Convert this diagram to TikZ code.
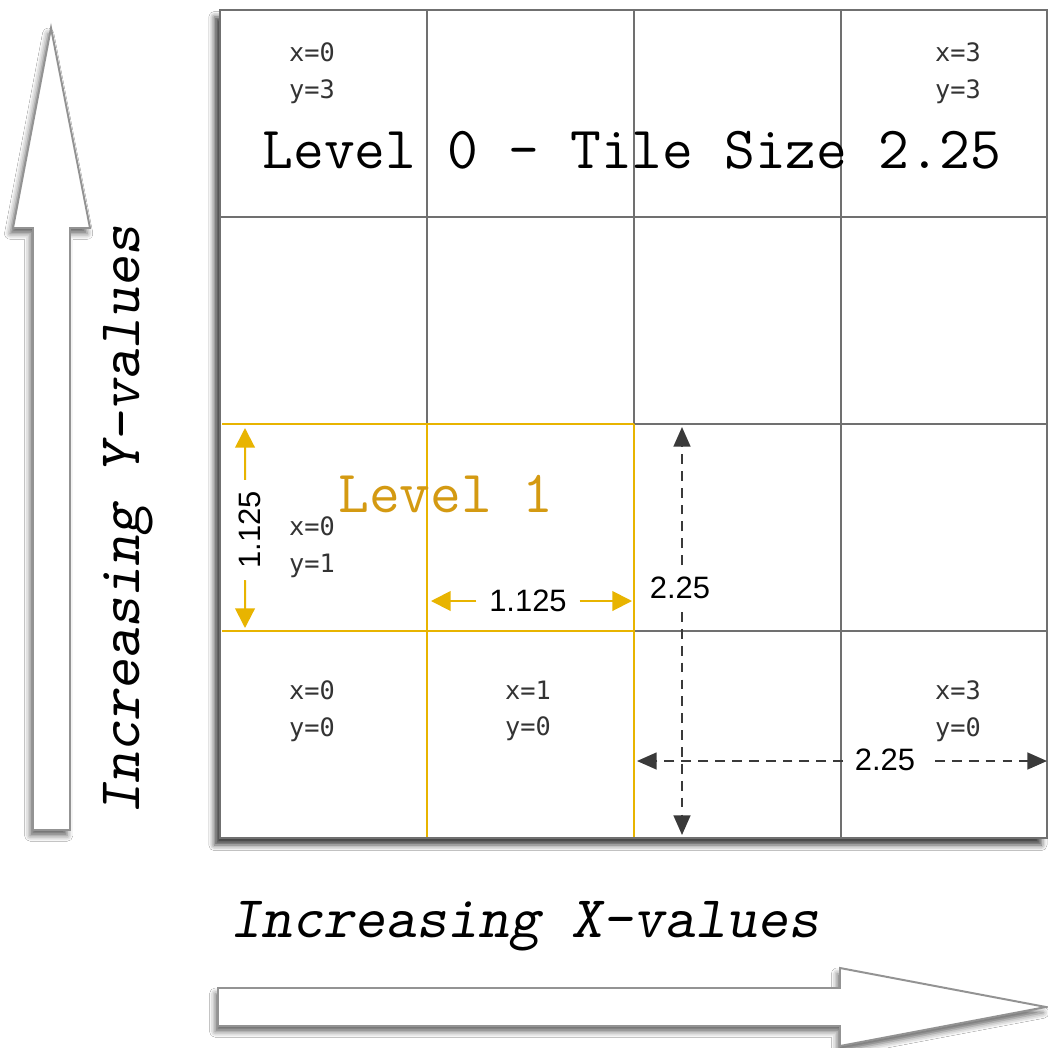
\documentclass[tikz,border=0pt]{standalone}
\usepackage{fontspec}
\setmainfont{Liberation Sans}
\newfontfamily\mon{DejaVu Sans Mono}
\newfontfamily\ttslant{Latin Modern Mono Slanted}
\usetikzlibrary{arrows.meta,shadows.blur}
\definecolor{gridgray}{HTML}{707070}
\definecolor{lvyellow}{HTML}{E8B400}
\definecolor{lvorange}{HTML}{D49A12}
\definecolor{dimdark}{HTML}{3A3A3A}
\definecolor{txtgray}{HTML}{333333}
\begin{document}
\begin{tikzpicture}[x=0.025cm,y=-0.025cm,
  gridline/.style={draw=gridgray,line width=1.3pt},
  yline/.style={draw=lvyellow,line width=1.3pt},
  cellnum/.style={font=\mon\fontsize{18}{26}\selectfont,text=txtgray,align=left,inner sep=0pt},
  bigtxt/.style={font=\ttfamily\fontsize{42.5}{44}\selectfont,inner sep=0pt},
  axtxt/.style={font=\ttslant\fontsize{42}{44}\selectfont,inner sep=0pt},
  ydim/.style={draw=lvyellow,line width=1.4pt,-{Triangle[length=14pt,width=14pt]}},
  ddim/.style={draw=dimdark,line width=1.4pt,dash pattern=on 7pt off 5pt,-{Triangle[length=14pt,width=12pt]}},
  dimlab/.style={font=\fontsize{22}{24}\selectfont,text=black},
  blockarrow/.style={fill=white,draw=gray!85,line width=1.4pt,
    blur shadow={shadow xshift=-2pt,shadow yshift=-4pt,shadow blur radius=4pt,shadow opacity=60}}
]
\useasboundingbox (0,0) rectangle (1048,1048);
\fill[white] (0,0) rectangle (1048,1048);

% block arrows
\path[blockarrow] (33,830) -- (33,228) -- (13,228) -- (51,28) -- (90,228) -- (70,228) -- (70,830) -- cycle;
\path[blockarrow] (218,988) -- (840,988) -- (840,968) -- (1046,1007) -- (840,1046) -- (840,1026) -- (218,1026) -- cycle;

% grid
\path[fill=white,blur shadow={shadow xshift=-4pt,shadow yshift=-5pt,shadow blur radius=4pt,shadow opacity=75}] (220,10) rectangle (1047,838);
\draw[gridline] (427,10) -- (427,424);
\draw[gridline] (634,10) -- (634,424);
\draw[gridline] (841,10) -- (841,838);
\draw[gridline] (220,217) -- (1047,217);
\draw[gridline] (634,424) -- (1047,424);
\draw[gridline] (634,631) -- (1047,631);
\draw[gridline] (220,10) rectangle (1047,838);

% level 1 lines
\draw[yline] (222,424) -- (634,424);
\draw[yline] (222,631) -- (634,631);
\draw[yline] (427,424) -- (427,837);
\draw[yline] (634,424) -- (634,837);

% texts
\node[bigtxt] (lv0) at (632,150) {Level 0 - Tile Size 2.25};
\node[bigtxt,text=lvorange] (lv1) at (446,494) {Level 1};
\node[cellnum] (c03) at (312,73) {x=0\\y=3};
\node[cellnum] (c33) at (958,73) {x=3\\y=3};
\node[cellnum] (c01) at (312,547) {x=0\\y=1};
\node[cellnum] (c00) at (312,711) {x=0\\y=0};
\node[cellnum] (c10) at (528,711) {x=1\\y=0};
\node[cellnum] (c30) at (958,711) {x=3\\y=0};
\node[axtxt,rotate=90] (ylab) at (128,520) {Increasing Y-values};
\node[axtxt] (xlab) at (525,926) {Increasing X-values};

% yellow dimensions
\node[dimlab,rotate=90,inner sep=8pt] (d1v) at (250,530) {1.125};
\coordinate (d1vt) at (245,428);
\coordinate (d1vb) at (245,628);
\draw[ydim] ([xshift=-3.5pt]d1v.east) -- (d1vt);
\draw[ydim] ([xshift=-3.5pt]d1v.west) -- (d1vb);
\node[dimlab,inner sep=9pt] (d1h) at (528,601) {1.125};
\coordinate (d1hl) at (431,601);
\coordinate (d1hr) at (632,601);
\draw[ydim] (d1h.west) -- (d1hl);
\draw[ydim] (d1h.east) -- (d1hr);

% dark dashed dimensions
\node[dimlab,fill=white,inner sep=5pt] (d2v) at (680,588) {2.25};
\coordinate (d2vt) at (682,427);
\coordinate (d2vb) at (682,835);
\draw[ddim] (682,565) -- (d2vt);
\draw[ddim] (682,612) -- (d2vb);
\coordinate (d2hl) at (637,761);
\coordinate (d2hr) at (1047,761);
\draw[ddim] (843,761) -- (d2hl);
\draw[ddim] (935,761) -- (d2hr);
\node[dimlab,fill=white,inner sep=5pt,minimum height=56] (d2h) at (885,760) {2.25};
\end{tikzpicture}
\end{document}
